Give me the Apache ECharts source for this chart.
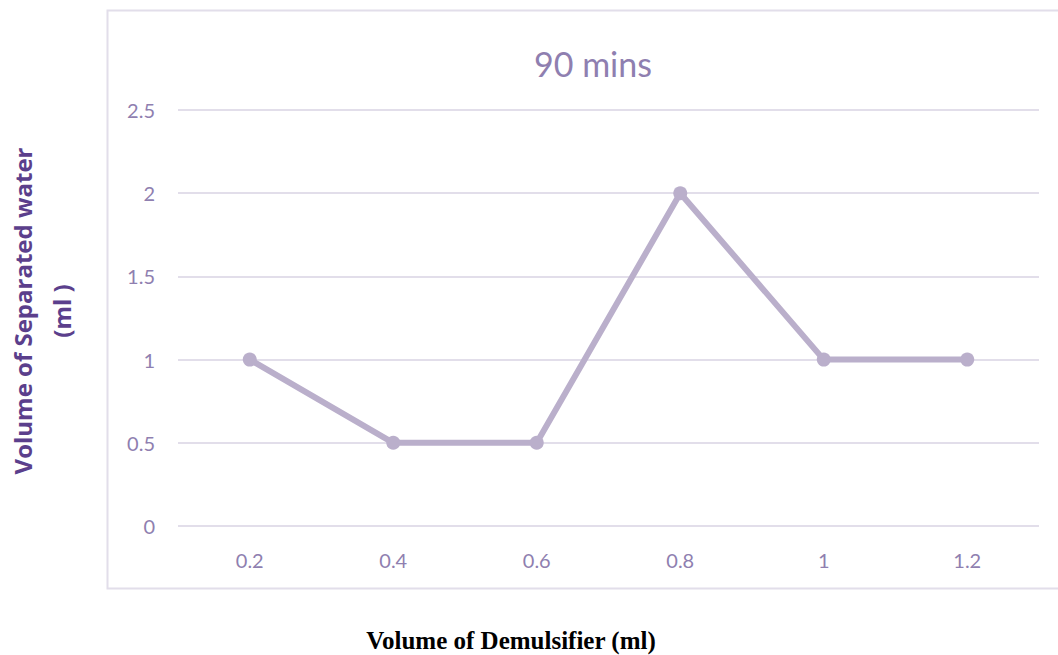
<!DOCTYPE html>
<html>
<head>
<meta charset="utf-8">
<script src="https://cdn.jsdelivr.net/npm/echarts@6/dist/echarts.min.js"></script>
<style>
html,body{margin:0;padding:0;background:#fff;}
#chart{width:1058px;height:655px;}
</style>
</head>
<body>
<div id="chart"></div>
<script>
const categories = ['0.2', '0.4', '0.6', '0.8', '1', '1.2'];
const separatedWater = [1, 0.5, 0.5, 2, 1, 1];
const yMin = 0, yMax = 2.5, yInterval = 0.5;
const chartTitle = '90 mins';
const yTitleLines = ['Volume of Separated water', '(ml )'];
const xTitle = 'Volume of Demulsifier (ml)';

const chart = echarts.init(document.getElementById('chart'), null, {renderer: 'svg'});
const labelColor = '#8F7FB0';
const labelFont = 'Lato, "Open Sans", sans-serif';
chart.setOption({
  animation: false,
  backgroundColor: '#ffffff',
  title: {
    text: chartTitle,
    left: 588, top: 41, textAlign: 'center',
    textStyle: {fontFamily: labelFont, fontSize: 34, fontWeight: 'normal', color: '#8F7FB0'}
  },
  grid: {left: 178, right: 19, top: 110, bottom: 129, containLabel: false},
  xAxis: {
    type: 'category',
    data: categories,
    boundaryGap: true,
    axisLine: {show: false},
    axisTick: {show: false},
    axisLabel: {color: labelColor, fontSize: 20, fontFamily: labelFont, margin: 24}
  },
  yAxis: {
    type: 'value',
    min: yMin, max: yMax, interval: yInterval,
    axisLine: {show: false},
    axisTick: {show: false},
    splitLine: {lineStyle: {color: '#E2DEEA', width: 2}},
    axisLabel: {color: labelColor, fontSize: 20, fontFamily: labelFont, margin: 23}
  },
  series: [{
    type: 'line',
    data: separatedWater,
    symbol: 'circle',
    symbolSize: 14,
    lineStyle: {color: '#BAAFCB', width: 6},
    itemStyle: {color: '#BAAFCB'}
  }],
  graphic: [
    {
      type: 'rect', z: -1, silent: true,
      shape: {x: 107.5, y: 10.5, width: 1000, height: 578},
      style: {fill: 'none', stroke: '#E2DEEA', lineWidth: 2}
    },
    {
      type: 'text', x: 22, y: 311, rotation: Math.PI / 2,
      style: {
        text: yTitleLines[0], fill: '#5B3F8C',
        font: 'bold 24px "Open Sans", sans-serif',
        align: 'center', verticalAlign: 'middle'
      }
    },
    {
      type: 'text', x: 61, y: 311, rotation: Math.PI / 2,
      style: {
        text: yTitleLines[1], fill: '#5B3F8C',
        font: 'bold 24px "Open Sans", sans-serif',
        align: 'center', verticalAlign: 'middle'
      }
    },
    {
      type: 'text', x: 511, y: 640,
      style: {
        text: xTitle, fill: '#000000',
        font: 'bold 25px "Liberation Serif", "Times New Roman", serif',
        align: 'center', verticalAlign: 'middle'
      }
    }
  ]
});
</script>
</body>
</html>
